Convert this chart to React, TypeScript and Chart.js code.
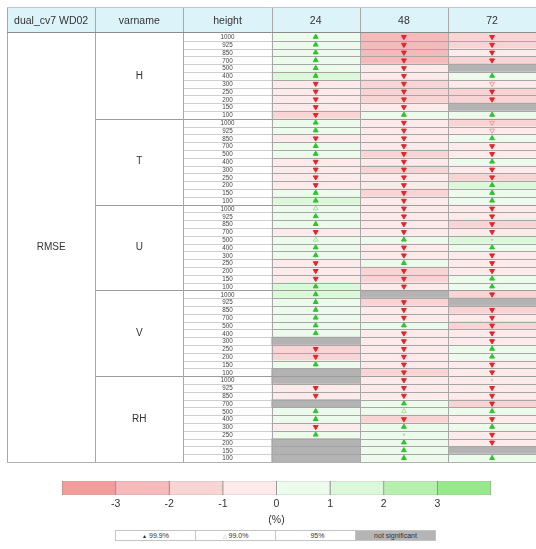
import React, { useEffect, useRef } from "react";
import { Chart, registerables } from "chart.js";

Chart.register(...registerables);

const FONT = "'Liberation Sans', Arial, Helvetica, sans-serif";

// ---------- data ----------
const headerLabels = ["dual_cv7 WD02", "varname", "height"];
const leadTimes = ["24", "48", "72"];
const metricName = "RMSE";
const varNames = ["H", "T", "U", "V", "RH"];
const levels = ["1000", "925", "850", "700", "500", "400", "300", "250", "200", "150", "100"];

// relative change (%) for each row (varNames x levels); null = not significant (grey)
const change24 = [
  0.5, 0.5, 0.5, 0.5, 0.5, 1.5, -0.5, -0.5, -0.5, -0.5, -1.5, // H
  0.5, 0.5, -0.5, 0.5, 0.5, -0.5, -0.5, -0.5, -0.5, 0.5, 1.5, // T
  0.5, 0.5, 0.5, -0.5, 0.5, 0.5, 0.5, -0.5, -0.5, -0.5, 1.5, // U
  1.5, 0.5, 0.5, 0.5, 0.5, 0.5, null, -1.5, -1.5, 0.5, null, // V
  null, -0.5, -0.5, null, 0.5, 0.5, -0.5, 0.5, null, null, null, // RH
];
const change48 = [
  -2.5, -2.5, -2.5, -2.5, -0.5, -0.5, -1.5, -1.5, -1.5, -0.5, 0.5,
  -0.5, -0.5, -0.5, -0.5, -1.5, -0.5, -1.5, -0.5, -0.5, -1.5, -0.5,
  -0.5, -0.5, -0.5, -0.5, 0.5, -0.5, -0.5, 0.5, -1.5, -1.5, -0.5,
  null, -1.5, -0.5, -0.5, 0.5, -0.5, -0.5, -0.5, -0.5, -0.5, -1.5,
  -0.5, -0.5, -0.5, 0.5, 0.5, -1.5, 0.5, 0.5, 0.5, 0.5, 0.5,
];
const change72 = [
  -1.5, -1.5, -0.5, -1.5, null, 0.5, -0.5, -1.5, -1.5, null, 0.5,
  -1.5, -0.5, 0.5, -0.5, -0.5, 0.5, -0.5, -1.5, 1.5, 0.5, 0.5,
  -0.5, -0.5, -1.5, -0.5, 1.5, 0.5, -0.5, -0.5, -0.5, 0.5, 0.5,
  -1.5, null, -1.5, -0.5, -1.5, -0.5, -0.5, 0.5, 0.5, -0.5, -0.5,
  -0.5, -0.5, -0.5, -1.5, 0.5, -0.5, 0.5, -0.5, -0.5, null, 0.5,
];

// significance: U = better 99.9%, u = better 99.0%, D = worse 99.9%, d = worse 99.0%, . = 95%, "" = none
const sig24 = [
  "U", "U", "U", "U", "U", "U", "D", "D", "D", "D", "D",
  "U", "U", "D", "U", "U", "D", "D", "D", "D", "U", "U",
  "u", "U", "U", "D", "u", "U", "U", "D", "D", "D", "U",
  "U", "U", "U", "U", "U", "U", "", "D", "D", "U", "",
  "", "D", "D", "", "U", "U", "D", "U", "", "", "",
];
const sig48 = [
  "D", "D", "D", "D", "D", "D", "D", "D", "D", "D", "U",
  "D", "D", "D", "D", "D", "D", "D", "D", "D", "D", "D",
  "D", "D", "D", "D", "U", "D", "D", "U", "D", "D", "D",
  "", "D", "D", "D", "U", "D", "D", "D", "D", "D", "D",
  "D", "D", "D", "U", "u", "D", "U", ".", "U", "U", "U",
];
const sig72 = [
  "D", "D", "D", "D", "", "U", "d", "D", "D", "", "U",
  "d", "d", "U", "D", "D", "U", "D", "D", "U", "U", "U",
  "D", "D", "D", "D", ".", "U", "D", "D", "D", "U", "U",
  "D", "", "D", "D", "D", "D", "D", "U", "U", "D", "D",
  ".", "D", "D", "D", "U", "D", "U", "D", "D", "", "U",
];

// colour bar
const binEdges = [-4, -3, -2, -1, 0, 1, 2, 3, 4];
const binColors = ["#f29c9c", "#f6baba", "#f9d4d4", "#fdeaea", "#edfbed", "#dbf8d8", "#b6f0ad", "#97e98b"];
const colorTickValues = [-3, -2, -1, 0, 1, 2, 3];
const colorUnit = "(%)";
const sigLegendLabels = ["99.9%", "99.0%", "95%", "not significant"];

// ---------- styles ----------
const GREY = "#b3b3b3";
const GREEN = "#2fc42f";
const RED = "#e2262b";
const OPEN_GREEN = "#9fe09f";
const OPEN_RED = "#f09a9a";

function colorFor(v: number | null): string {
  if (v === null) return GREY;
  for (let k = 0; k < binColors.length; k++) {
    if (v < binEdges[k + 1]) return binColors[k];
  }
  return binColors[binColors.length - 1];
}

const rowLabels = varNames.flatMap((v) => levels.map((l) => `${v} ${l}`));

function ScoreTable() {
  const ref = useRef<HTMLCanvasElement>(null);
  useEffect(() => {
    const values = [change24, change48, change72];
    const sigs = [sig24, sig48, sig72];
    const nLab = headerLabels.length;
    const nCols = nLab + leadTimes.length;
    const HEADER_H = 26;

    const bars = leadTimes.map((lt, j) => ({
      type: "bar",
      label: lt,
      data: rowLabels.map(() => [nLab + j, nLab + j + 1]),
      backgroundColor: values[j].map(colorFor),
      grouped: false,
      barPercentage: 1,
      categoryPercentage: 1,
      borderWidth: 0,
      order: 2,
    }));
    const markers = leadTimes.map((lt, j) => ({
      type: "scatter",
      label: lt + " significance",
      indexAxis: "x",
      data: rowLabels.map((r) => ({ x: nLab + j + 0.5, y: r })),
      pointStyle: sigs[j].map((s) => (s === "." ? "circle" : "triangle")),
      pointRotation: sigs[j].map((s) => (s === "D" || s === "d" ? 180 : 0)),
      pointRadius: sigs[j].map((s) => (s === "" ? 0 : s === "." ? 0.8 : 2.8)),
      pointHoverRadius: 0,
      pointBackgroundColor: sigs[j].map((s) =>
        s === "U" ? GREEN : s === "D" ? RED : s === "." ? "#c8c8c8" : "rgba(255,255,255,0)"
      ),
      pointBorderColor: sigs[j].map((s) =>
        s === "U" ? GREEN : s === "D" ? RED : s === "u" ? OPEN_GREEN : s === "d" ? OPEN_RED : "#c8c8c8"
      ),
      pointBorderWidth: 1,
      order: 1,
    }));

    const tablePlugin = {
      id: "scoreTable",
      afterDatasetsDraw(chart: any) {
        const { ctx, scales } = chart;
        const xs = scales.x;
        const ys = scales.y;
        const nRows = rowLabels.length;
        const band = ys.getPixelForValue(1) - ys.getPixelForValue(0);
        const rowTop = (i: number) => ys.getPixelForValue(i) - band / 2;
        const colX = (c: number) => xs.getPixelForValue(c);
        const top = rowTop(0);
        const bottom = rowTop(nRows);
        const hTop = top - HEADER_H;
        const left = colX(0);
        const right = colX(nCols);
        const px = (v: number) => Math.round(v) + 0.5;
        const line = (x1: number, y1: number, x2: number, y2: number, c: string) => {
          ctx.strokeStyle = c;
          ctx.beginPath();
          ctx.moveTo(x1, y1);
          ctx.lineTo(x2, y2);
          ctx.stroke();
        };
        ctx.save();
        ctx.lineWidth = 1;
        // header
        ctx.fillStyle = "#dcf4f9";
        ctx.fillRect(left, hTop, right - left, HEADER_H);
        ctx.fillStyle = "#333";
        ctx.textAlign = "center";
        ctx.textBaseline = "middle";
        ctx.font = `10.5px ${FONT}`;
        [...headerLabels, ...leadTimes].forEach((t, c) => {
          ctx.fillText(t, (colX(c) + colX(c + 1)) / 2, hTop + HEADER_H / 2 + 1);
        });
        // row lines
        for (let i = 1; i < nRows; i++) {
          const yy = px(rowTop(i));
          if (i % levels.length === 0) {
            line(colX(1), yy, right, yy, "#9c9c9c");
          } else {
            line(colX(2), yy, colX(nLab), yy, "#cfcfcf");
            line(colX(nLab), yy, right, yy, "#a6a6a6");
          }
        }
        // vertical lines
        for (let c = 0; c <= nCols; c++) {
          const xx = px(colX(c));
          line(xx, hTop, xx, bottom, "#a8a8a8");
        }
        // header borders / outer
        line(left, px(hTop), right, px(hTop), "#c4c4c4");
        line(left, px(top) - 1, right, px(top) - 1, "#8c8c8c");
        line(left, px(bottom), right, px(bottom), "#b0b0b0");
        // label texts
        ctx.fillStyle = "#333";
        ctx.font = `10px ${FONT}`;
        ctx.fillText(metricName, (colX(0) + colX(1)) / 2, (top + bottom) / 2);
        varNames.forEach((v, g) => {
          const g0 = rowTop(g * levels.length);
          const g1 = rowTop((g + 1) * levels.length);
          ctx.fillText(v, (colX(1) + colX(2)) / 2, (g0 + g1) / 2);
        });
        ctx.font = `6.3px ${FONT}`;
        ctx.fillStyle = "#444";
        rowLabels.forEach((_, i) => {
          ctx.fillText(levels[i % levels.length], (colX(2) + colX(3)) / 2, ys.getPixelForValue(i) + 0.5);
        });
        ctx.restore();
      },
    };

    const chart = new Chart(ref.current as HTMLCanvasElement, {
      type: "bar",
      data: { labels: rowLabels, datasets: [...markers, ...bars] as any },
      options: {
        indexAxis: "y",
        animation: false,
        responsive: false,
        events: [],
        layout: { padding: { left: 7, right: 2, top: 33, bottom: 4 } },
        plugins: { legend: { display: false }, tooltip: { enabled: false } },
        scales: {
          x: { type: "linear", min: 0, max: nCols, display: false },
          y: { type: "category", offset: true, display: false },
        },
      } as any,
      plugins: [tablePlugin],
    });
    return () => chart.destroy();
  }, []);
  return (
    <canvas
      ref={ref}
      width={540}
      height={466}
      style={{ position: "absolute", left: 0, top: 0, width: 540, height: 466, display: "block" }}
    />
  );
}

function ColorBar() {
  const ref = useRef<HTMLCanvasElement>(null);
  useEffect(() => {
    const datasets = binColors.map((c, k) => ({
      label: `${binEdges[k]} to ${binEdges[k + 1]}`,
      data: [[binEdges[k], binEdges[k + 1]]],
      backgroundColor: c,
      borderColor: "#8e8e8e",
      borderWidth: { left: 0.8, right: 0.8, top: 0.5, bottom: 0.5 },
      borderSkipped: false,
      grouped: false,
      barPercentage: 1,
      categoryPercentage: 1,
    }));
    const chart = new Chart(ref.current as HTMLCanvasElement, {
      type: "bar",
      data: { labels: [colorUnit], datasets: datasets as any },
      options: {
        indexAxis: "y",
        animation: false,
        responsive: false,
        events: [],
        layout: { padding: { left: 62, right: 45, top: 11, bottom: 0 } },
        plugins: { legend: { display: false }, tooltip: { enabled: false } },
        scales: {
          x: {
            type: "linear",
            min: binEdges[0],
            max: binEdges[binEdges.length - 1],
            afterBuildTicks: (s: any) => {
              s.ticks = colorTickValues.map((v) => ({ value: v }));
            },
            grid: { display: false, drawTicks: false },
            border: { display: false },
            ticks: { font: { family: FONT, size: 10.5 }, color: "#333", padding: 3 },
            title: {
              display: true,
              text: colorUnit,
              font: { family: FONT, size: 10.5 },
              color: "#333",
              padding: { top: 4, bottom: 4 },
            },
            afterFit: (s: any) => {
              s.height = 35;
            },
          },
          y: { display: false },
        },
      } as any,
    });
    return () => chart.destroy();
  }, []);
  return (
    <canvas
      ref={ref}
      width={536}
      height={60}
      style={{ position: "absolute", left: 0, top: 470, width: 536, height: 60, display: "block" }}
    />
  );
}

function SigLegend() {
  const symbols = [
    <span style={{ fontSize: 5, color: "#222" }}>▲</span>,
    <span style={{ fontSize: 5, color: "#aaa" }}>△</span>,
    <span style={{ fontSize: 6, color: "#999" }}>·</span>,
    null,
  ];
  return (
    <div style={{ position: "absolute", left: 115, top: 530, display: "flex" }}>
      {sigLegendLabels.map((t, k) => (
        <div
          key={t}
          style={{
            width: 81,
            height: 11,
            boxSizing: "border-box",
            border: "1px solid #c4c4c4",
            marginLeft: k ? -1 : 0,
            background: k === 3 ? "#b5b5b5" : "#fff",
            font: `7px ${FONT}`,
            color: "#333",
            textAlign: "center",
            lineHeight: "9px",
            whiteSpace: "nowrap",
          }}
        >
          {symbols[k]} {t}
        </div>
      ))}
    </div>
  );
}

export default function App() {
  return (
    <div
      style={{
        position: "absolute",
        left: 0,
        top: 0,
        width: 536,
        height: 549,
        overflow: "hidden",
        background: "#fff",
      }}
    >
      <ScoreTable />
      <ColorBar />
      <SigLegend />
    </div>
  );
}
